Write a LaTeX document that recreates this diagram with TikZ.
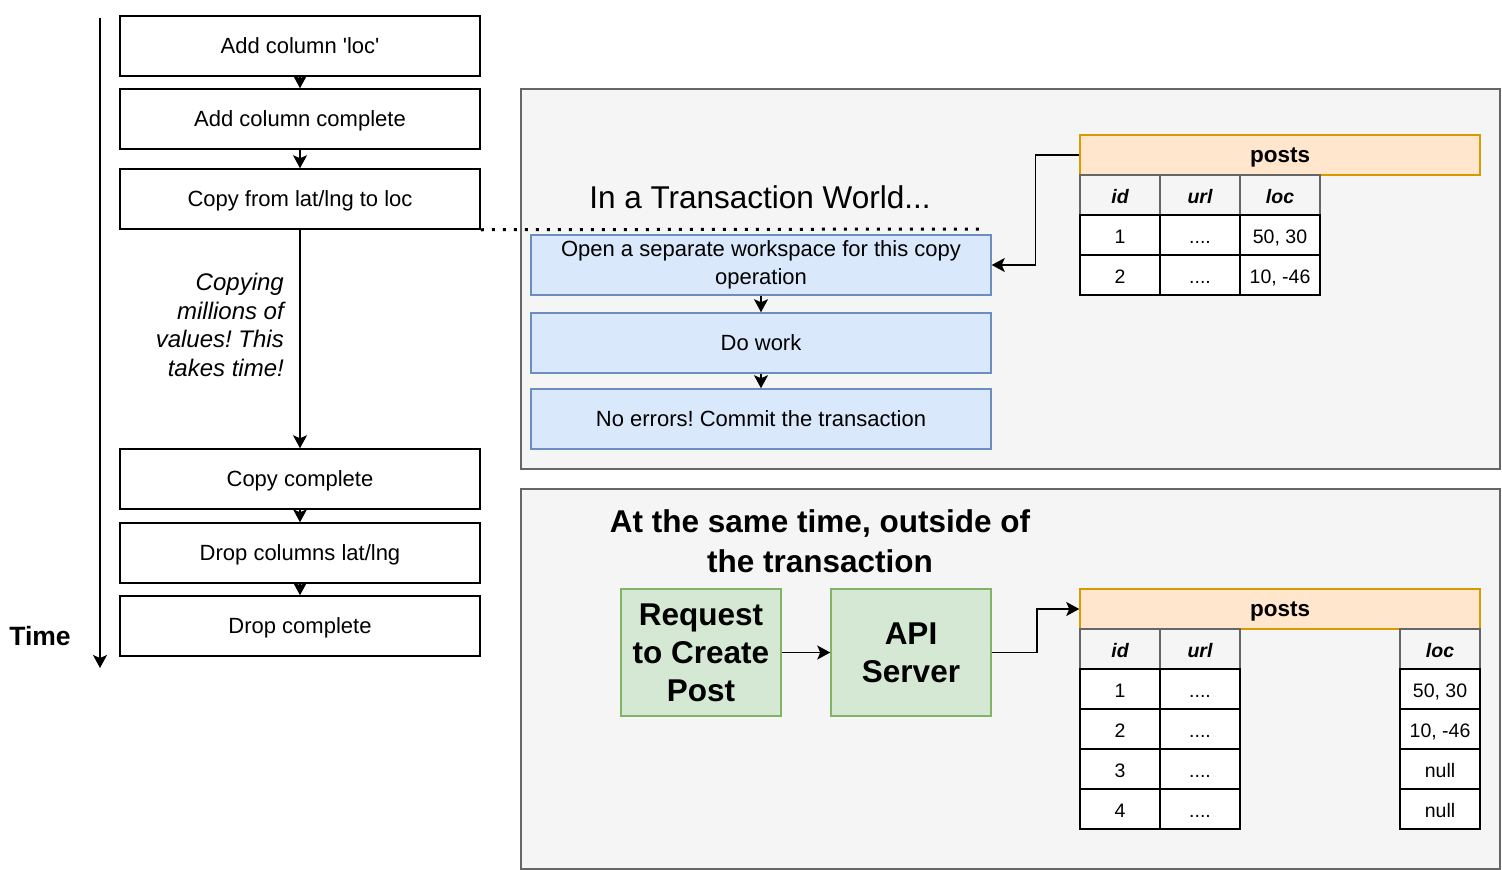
\documentclass[tikz,border=0pt]{standalone}
\usepackage{fontspec}
\setmainfont{Liberation Sans}
\usetikzlibrary{arrows.meta,positioning}

\definecolor{panelfill}{HTML}{F5F5F5}
\definecolor{panelline}{HTML}{666666}
\definecolor{bluefill}{HTML}{DAE8FC}
\definecolor{blueline}{HTML}{6C8EBF}
\definecolor{greenfill}{HTML}{D5E8D4}
\definecolor{greenline}{HTML}{82B366}
\definecolor{orangefill}{HTML}{FFE6CC}
\definecolor{orangeline}{HTML}{D79B00}

\frenchspacing
\begin{document}
\begin{tikzpicture}[x=1pt, y=-1pt,
    stepbox/.style={draw, line width=1.5pt, minimum width=360pt, minimum height=60pt, inner sep=0pt, text height=17pt, text depth=1.5pt, font=\fontsize{22}{28}\selectfont},
    panel/.style={draw=panelline, fill=panelfill, line width=1.5pt},
    txbox/.style={draw=blueline, fill=bluefill, line width=1.5pt, minimum width=460pt, minimum height=60pt, inner sep=0pt, align=center, font=\fontsize{22}{28}\selectfont},
    bigbox/.style={draw=greenline, fill=greenfill, line width=1.5pt, minimum width=160pt, minimum height=127pt, inner sep=0pt, align=center, font=\fontsize{31.5}{38}\selectfont\bfseries},
    tblhead/.style={draw=orangeline, fill=orangefill, line width=1.5pt, minimum width=400pt, minimum height=40pt, text height=15pt, text depth=0pt, font=\fontsize{22.5}{27}\selectfont\bfseries},
    colhead/.style={draw=panelline, fill=panelfill, line width=1.5pt, minimum width=80pt, minimum height=40pt, text height=17pt, text depth=0pt, font=\fontsize{19.5}{24}\selectfont\bfseries\itshape},
    cell/.style={draw, fill=white, line width=1.5pt, minimum width=80pt, minimum height=40pt, text height=17pt, text depth=0pt, font=\fontsize{19.5}{24}\selectfont},
    edge/.style={-{Stealth[length=13pt, width=14pt, inset=3pt]}, line width=1.5pt},
    title/.style={font=\fontsize{31.5}{40}\selectfont},
]
\useasboundingbox (0,0) rectangle (1502,870);

% Panels
\draw[panel] (521,89) rectangle (1500,469);
\draw[panel] (521,489) rectangle (1500,869);

% Time axis
\coordinate (ttop) at (100,18);
\coordinate (tend) at (100,668);
\draw[edge] (ttop) -- (tend);
\node[font=\fontsize{26.5}{30}\selectfont\bfseries] (tlabel) at (40,636) {Time};

% Migration steps
\node[stepbox] (s1) at (300,46) {Add column \textquotesingle loc\textquotesingle};
\node[stepbox] (s2) at (300,119) {Add column complete};
\node[stepbox] (s3) at (300,199) {Copy from lat/lng to loc};
\node[stepbox] (s4) at (300,479) {Copy complete};
\node[stepbox] (s5) at (300,553) {Drop columns lat/lng};
\node[stepbox] (s6) at (300,626) {Drop complete};

\draw[edge] (s1) -- (s2);
\draw[edge] (s2) -- (s3);
\draw[edge] (s3) -- (s4);
\draw[edge] (s4) -- (s5);
\draw[edge] (s5) -- (s6);

\node[anchor=east, align=right, inner sep=0pt, font=\fontsize{24}{28.7}\selectfont\itshape] (copynote) at (284,325)
  {Copying\\millions of\\values! This\\takes time!};

% Transaction world
\coordinate (dotend) at (985,229);
\draw[line width=3pt, dash pattern=on 3pt off 8pt] (s3.south east) -- (dotend);
\node[title] (txtitle) at (760,197) {In a Transaction World...};

\node[txbox] (open) at (761,265) {Open a separate workspace for this copy\\operation};
\node[txbox] (work) at (761,343) {Do work};
\node[txbox] (commit) at (761,419) {No errors! Commit the transaction};
\draw[edge] (open) -- (work);
\draw[edge] (work) -- (commit);

% Table inside the transaction
\node[tblhead] (hdr1) at (1280,155) {posts};
\foreach \c/\x in {id/1120, url/1200, loc/1280}
  \node[colhead] (a-\c) at (\x,195) {\c};
\foreach \r/\y/\v in {1/235/{50, 30}, 2/275/{10, -46}} {
  \node[cell] (a-id\r) at (1120,\y) {\r};
  \node[cell] (a-url\r) at (1200,\y) {....};
  \node[cell] (a-loc\r) at (1280,\y) {\v};
}
\draw[edge] (hdr1.west) -- ++(-44,0) |- (open.east);

% Outside of the transaction
\node[title, font=\fontsize{31.5}{40}\selectfont\bfseries, align=center] (sametitle) at (820,541)
  {At the same time, outside of\\the transaction};

\node[bigbox] (req) at (701,652.5) {Request\\to Create\\Post};
\node[bigbox] (api) at (911,652.5) {API\\Server};

\node[tblhead] (hdr2) at (1280,609) {posts};
\foreach \c/\x in {id/1120, url/1200, loc/1440}
  \node[colhead] (b-\c) at (\x,649) {\c};
\foreach \r/\y/\v in {1/689/{50, 30}, 2/729/{10, -46}, 3/769/null, 4/809/null} {
  \node[cell] (b-id\r) at (1120,\y) {\r};
  \node[cell] (b-url\r) at (1200,\y) {....};
  \node[cell] (b-loc\r) at (1440,\y) {\v};
}

\draw[edge] (req) -- (api);
\draw[edge] (api.east) -- ++(45,0) |- (hdr2.west);

\end{tikzpicture}
\end{document}
